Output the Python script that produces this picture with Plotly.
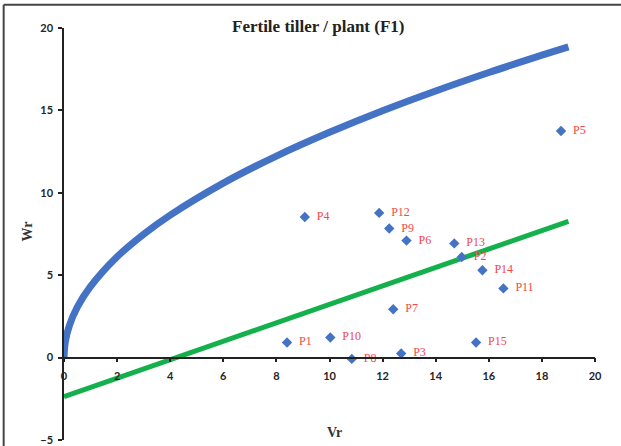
import plotly.graph_objects as go

# Parent / array points (Vr, Wr)
labels = ["P1", "P2", "P3", "P4", "P5", "P6", "P7", "P8", "P9", "P10",
          "P11", "P12", "P13", "P14", "P15"]
vr = [8.4, 14.98, 12.7, 9.07, 18.72, 12.9, 12.4, 10.84, 12.25, 10.03,
      16.55, 11.87, 14.7, 15.76, 15.52]
wr = [0.92, 6.1, 0.25, 8.53, 13.75, 7.1, 2.93, -0.08, 7.83, 1.22,
      4.2, 8.78, 6.93, 5.3, 0.92]

# Limiting parabola
parab_x = [0, 0.05, 0.2, 0.5, 1, 2, 3, 4, 6, 8, 10, 12, 14, 16, 18, 19]
parab_y = [0, 0.97, 1.93, 3.06, 4.32, 6.12, 7.49, 8.65, 10.59, 12.23,
           13.67, 14.98, 16.18, 17.30, 18.35, 18.86]

# Regression line end points
reg_x = [0, 19]
reg_y = [-2.37, 8.27]

x_ticks = [0, 2, 4, 6, 8, 10, 12, 14, 16, 18, 20]
y_ticks = [-5, 0, 5, 10, 15, 20]

W, H = 621, 446
ml, mr, mt, mb = 64.3, 26, 28.3, 6
pw = W - ml - mr
ph = H - mt - mb

def px(xpix):
    return (xpix - ml) / pw

def py(ypix):
    return (H - mb - ypix) / ph

fig = go.Figure()
fig.add_trace(go.Scatter(x=parab_x, y=parab_y, mode="lines",
                         line=dict(color="#4472C4", width=7, shape="spline"),
                         hoverinfo="skip", showlegend=False))
fig.add_trace(go.Scatter(x=reg_x, y=reg_y, mode="lines",
                         line=dict(color="#13B04B", width=5),
                         showlegend=False))
fig.add_trace(go.Scatter(x=vr, y=wr, mode="markers+text",
                         marker=dict(symbol="diamond", size=8, color="#4472C4"),
                         text=["  " + l for l in labels], textposition="middle right",
                         textfont=dict(family="Liberation Serif", size=12, color="#F04848"),
                         cliponaxis=False, showlegend=False))

tick_font = dict(family="Lato", size=11, color="#262626", weight="bold")
fig.update_layout(
    width=W, height=H,
    margin=dict(l=ml, r=mr, t=mt, b=mb, pad=0, autoexpand=False),
    paper_bgcolor="white", plot_bgcolor="white",
    xaxis=dict(range=[0, 20], tickvals=x_ticks, ticks="outside", ticklen=4,
               tickwidth=1.5, tickcolor="#222", showline=True, linecolor="#222",
               linewidth=1.5, showgrid=False, zeroline=False, automargin=False,
               anchor="free", position=5 / 25, ticklabelstandoff=4,
               tickfont=tick_font),
    yaxis=dict(range=[-5, 20], tickvals=y_ticks, ticks="outside", ticklen=4,
               tickwidth=1.5, tickcolor="#222", showline=True, linecolor="#222",
               linewidth=1.5, showgrid=False, zeroline=False, automargin=False,
               ticklabelstandoff=3, tickfont=tick_font),
    font=dict(family="Liberation Serif"),
)

fig.add_annotation(text="<b>Fertile tiller / plant (F1)</b>", xref="paper", yref="paper",
                   x=px(318), y=py(27), xanchor="center", yanchor="middle", showarrow=False,
                   font=dict(family="Liberation Serif", size=17, color="#222"))
fig.add_annotation(text="<b>Vr</b>", xref="paper", yref="paper",
                   x=px(335), y=py(433), xanchor="center", yanchor="middle", showarrow=False,
                   font=dict(family="Liberation Serif", size=14, color="#333"))
fig.add_annotation(text="<b>Wr</b>", xref="paper", yref="paper",
                   x=px(28), y=py(232), xanchor="center", yanchor="middle", showarrow=False,
                   textangle=-90,
                   font=dict(family="Liberation Serif", size=14, color="#333"))

# image frame (top and left edges)
fig.add_shape(type="line", xref="paper", yref="paper",
              x0=px(4), x1=px(621), y0=py(5), y1=py(5),
              line=dict(color="#444", width=2))
fig.add_shape(type="line", xref="paper", yref="paper",
              x0=px(4), x1=px(4), y0=py(5), y1=py(446),
              line=dict(color="#444", width=2))

fig.write_html("out.html")
